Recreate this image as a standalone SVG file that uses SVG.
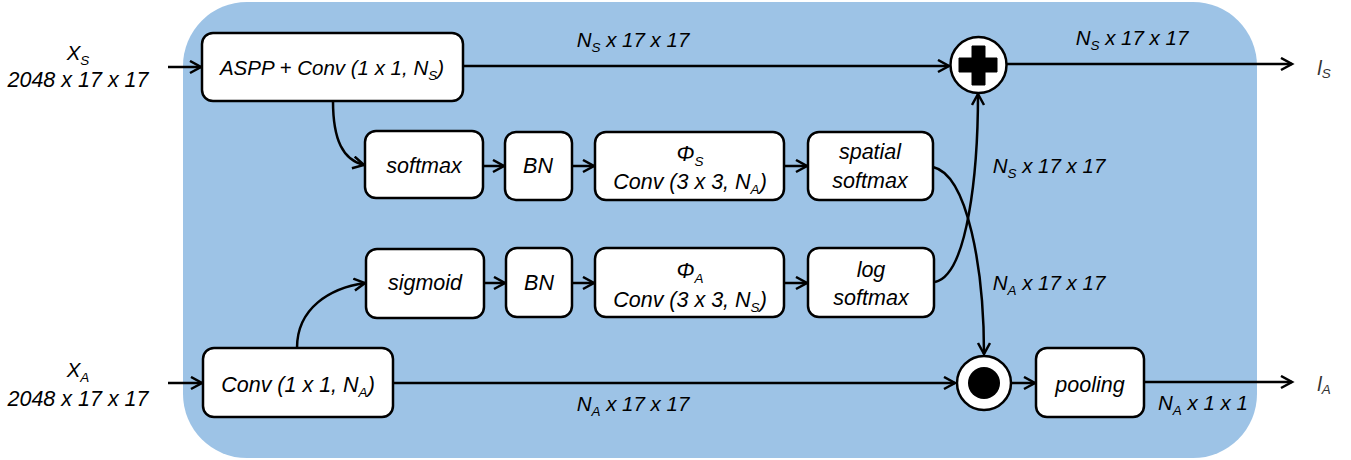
<svg xmlns="http://www.w3.org/2000/svg" width="1351" height="460" viewBox="0 0 1351 460">
<defs>
<marker id="arr" markerUnits="userSpaceOnUse" markerWidth="16" markerHeight="16" refX="12" refY="7" orient="auto">
<path d="M1,1 L12,7 L1,13" fill="none" stroke="#000" stroke-width="2.5"/>
</marker>
<style>
.box{fill:#fff;stroke:#000;stroke-width:2.5}
.t{font-family:"Liberation Sans",Arial,sans-serif;font-style:italic;font-size:21.5px;fill:#000;text-anchor:middle}
.d{font-family:"Liberation Sans",Arial,sans-serif;font-style:italic;font-size:20.5px;fill:#000;text-anchor:middle}
.e{fill:none;stroke:#000;stroke-width:2.5;marker-end:url(#arr)}
.s{font-size:13.5px}
</style>
</defs>
<rect id="background" x="183" y="2" width="1074" height="456" rx="64" ry="64" fill="#9DC3E6"/>
<g id="connectors">
<path class="e" d="M168,67 L201,67"/>
<path class="e" d="M168,383 L202,383"/>
<path class="e" d="M463,66 L949,66"/>
<path class="e" d="M1007,64 L1292,64"/>
<path class="e" d="M333,101 C333,140 343,160 364,165"/>
<path class="e" d="M483,166 L504,166"/>
<path class="e" d="M572,166 L594,166"/>
<path class="e" d="M784,166 L807,166"/>
<path class="e" d="M297,348 C297,308 330,288 365,283"/>
<path class="e" d="M484,283 L505,283"/>
<path class="e" d="M572,283 L594,283"/>
<path class="e" d="M784,283 L807,283"/>
<path class="e" d="M933,167 C968,175 984,270 984,354"/>
<path class="e" d="M935,282 C968,275 978,170 978,94"/>
<path class="e" d="M393,383 L955,383"/>
<path class="e" d="M1012,383 L1035,383"/>
<path class="e" d="M1144,382 L1292,382"/>
</g>
<g id="labels">
<text class="d" x="78" y="60">X<tspan class="s" dy="5">S</tspan></text>
<text class="d" x="78" y="87" style="font-size:21.5px">2048 x 17 x 17</text>
<text class="d" x="78" y="377">X<tspan class="s" dy="5">A</tspan></text>
<text class="d" x="78" y="406" style="font-size:21.5px">2048 x 17 x 17</text>
<text class="d" x="633" y="47">N<tspan class="s" dy="5">S</tspan><tspan dy="-5"> x 17 x 17</tspan></text>
<text class="d" x="1132" y="45">N<tspan class="s" dy="5">S</tspan><tspan dy="-5"> x 17 x 17</tspan></text>
<text class="d" x="1049" y="173">N<tspan class="s" dy="5">S</tspan><tspan dy="-5"> x 17 x 17</tspan></text>
<text class="d" x="1049" y="290">N<tspan class="s" dy="5">A</tspan><tspan dy="-5"> x 17 x 17</tspan></text>
<text class="d" x="633" y="411">N<tspan class="s" dy="5">A</tspan><tspan dy="-5"> x 17 x 17</tspan></text>
<text class="d" x="1203" y="410">N<tspan class="s" dy="5">A</tspan><tspan dy="-5"> x 1 x 1</tspan></text>
<text class="d" x="1324" y="75" style="font-size:20px;fill:#333">l<tspan class="s" dy="3">S</tspan></text>
<text class="d" x="1324" y="391" style="font-size:20px;fill:#333">l<tspan class="s" dy="3">A</tspan></text>
</g>
<g id="aspp"><rect class="box" x="202" y="33" width="261" height="68" rx="11"/><text class="t" x="332" y="75" style="font-size:20.5px">ASPP + Conv (1 x 1, N<tspan class="s" dy="5">S</tspan><tspan dy="-5">)</tspan></text></g>
<g id="softmax"><rect class="box" x="365" y="131" width="118" height="67" rx="11"/><text class="t" x="424" y="173">softmax</text></g>
<g id="bn_s"><rect class="box" x="505" y="132" width="67" height="68" rx="11"/><text class="t" x="538" y="173">BN</text></g>
<g id="phi_s"><rect class="box" x="595" y="132" width="189" height="68" rx="11"/><text class="t" x="690" y="161">Φ<tspan class="s" dy="5">S</tspan></text><text class="t" x="690" y="189">Conv (3 x 3, N<tspan class="s" dy="5">A</tspan><tspan dy="-5">)</tspan></text></g>
<g id="spatial_softmax"><rect class="box" x="808" y="132" width="125" height="68" rx="11"/><text class="t" x="870" y="159">spatial</text><text class="t" x="870" y="188">softmax</text></g>
<g id="sigmoid"><rect class="box" x="366" y="249" width="118" height="69" rx="11"/><text class="t" x="425" y="290">sigmoid</text></g>
<g id="bn_a"><rect class="box" x="506" y="248" width="66" height="69" rx="11"/><text class="t" x="539" y="290">BN</text></g>
<g id="phi_a"><rect class="box" x="595" y="248" width="189" height="69" rx="11"/><text class="t" x="690" y="278">Φ<tspan class="s" dy="5">A</tspan></text><text class="t" x="690" y="307">Conv (3 x 3, N<tspan class="s" dy="5">S</tspan><tspan dy="-5">)</tspan></text></g>
<g id="log_softmax"><rect class="box" x="808" y="248" width="126" height="69" rx="11"/><text class="t" x="871" y="277">log</text><text class="t" x="871" y="305">softmax</text></g>
<g id="conv_a"><rect class="box" x="203" y="348" width="190" height="69" rx="11"/><text class="t" x="298" y="392">Conv (1 x 1, N<tspan class="s" dy="5">A</tspan><tspan dy="-5">)</tspan></text></g>
<g id="pooling"><rect class="box" x="1036" y="348" width="108" height="69" rx="11"/><text class="t" x="1090" y="392">pooling</text></g>
<g id="plus"><circle cx="978.5" cy="65" r="28" fill="#fff" stroke="#000" stroke-width="2.5"/><path d="M972,46 H985 V58 H997 V72 H985 V85 H972 V72 H959 V58 H972 Z" fill="#000" stroke="#000" stroke-width="1" stroke-linejoin="round"/></g>
<g id="hadamard"><circle cx="984" cy="383" r="27" fill="#fff" stroke="#000" stroke-width="2.5"/><circle cx="984" cy="383" r="16" fill="#000"/></g>
</svg>
